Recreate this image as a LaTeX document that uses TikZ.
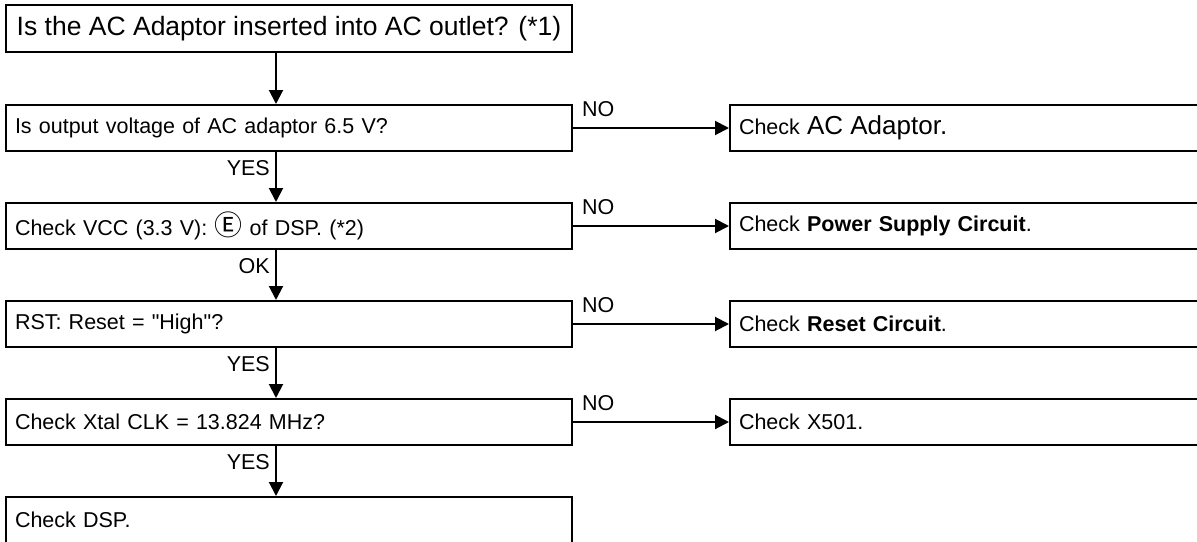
\documentclass[tikz,border=0pt]{standalone}
\usepackage{fontspec}
\setmainfont{Liberation Sans}
\newfontfamily\cjk{Noto Sans CJK SC}
\usetikzlibrary{arrows.meta}
\begin{document}
\begin{tikzpicture}[x=1pt,y=-1pt,
  box/.style={draw,line width=2pt,rectangle,anchor=north west,minimum height=46pt,
    inner xsep=9pt,inner ysep=0pt,align=left,font=\fontsize{21.5}{25}\selectfont},
  lbox/.style={box,text width=548pt},
  rbox/.style={box,text width=470pt},
  arr/.style={line width=2pt,-{Triangle[length=14pt,width=14pt]}},
  lab/.style={inner sep=0pt,font=\fontsize{21.5}{25}\selectfont}]
\useasboundingbox (0,0) rectangle (1197,541);
\clip (0,0) rectangle (1197,541);
\coordinate (ax) at (276,0);
% left column
\node[draw,line width=2pt,rectangle,anchor=north west,minimum width=566pt,minimum height=47pt,
  inner sep=0pt,font=\fontsize{26.5}{30}\selectfont] (b1) at (5,4)
  {Is the AC Adaptor inserted into AC outlet? (*1)};
\node[lbox] (b2) at (5,104) {Is output voltage of AC adaptor 6.5 V?};
\node[lbox] (b3) at (5,202) {Check VCC (3.3 V): {\cjk\fontsize{28}{28}\selectfont Ⓔ} of DSP. (*2)};
\node[lbox] (b4) at (5,300) {RST: Reset = \textquotedbl High\textquotedbl?};
\node[lbox] (b5) at (5,398) {Check Xtal CLK = 13.824 MHz?};
\node[lbox] (b6) at (5,496) {Check DSP.};
% right column
\node[rbox] (r2) at (729,104) {Check {\fontsize{26}{28}\selectfont AC Adaptor.}};
\node[rbox] (r3) at (729,202) {Check \textbf{Power Supply Circuit}.};
\node[rbox] (r4) at (729,300) {Check \textbf{Reset Circuit}.};
\node[rbox] (r5) at (729,398) {Check X501.};
% vertical connectors
\draw[arr] (b1.south -| ax) -- (b2.north -| ax);
\draw[arr] (b2.south -| ax) -- (b3.north -| ax);
\draw[arr] (b3.south -| ax) -- (b4.north -| ax);
\draw[arr] (b4.south -| ax) -- (b5.north -| ax);
\draw[arr] (b5.south -| ax) -- (b6.north -| ax);
% horizontal connectors
\draw[arr] (b2.east) -- (r2.west);
\draw[arr] (b3.east) -- (r3.west);
\draw[arr] (b4.east) -- (r4.west);
\draw[arr] (b5.east) -- (r5.west);
% labels
\node[lab,anchor=north east] (y2) at (270,160) {YES};
\node[lab,anchor=north east] (y3) at (270,258) {OK};
\node[lab,anchor=north east] (y4) at (270,356) {YES};
\node[lab,anchor=north east] (y5) at (270,454) {YES};
\node[lab,anchor=south west] (n2) at (582,117) {NO};
\node[lab,anchor=south west] (n3) at (582,215) {NO};
\node[lab,anchor=south west] (n4) at (582,313) {NO};
\node[lab,anchor=south west] (n5) at (582,411) {NO};
\end{tikzpicture}
\end{document}
